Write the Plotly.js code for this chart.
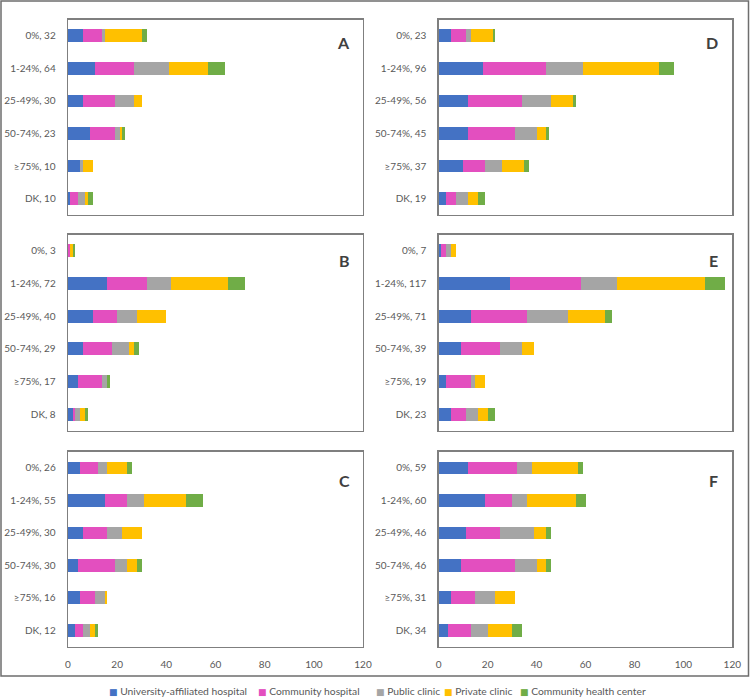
<!DOCTYPE html>
<html><head><meta charset="utf-8">
<script src="https://cdn.plot.ly/plotly-3.0.1.min.js"></script>
<style>html,body{margin:0;padding:0;background:#fff}#chart{width:750px;height:700px}</style>
</head><body><div id="chart"></div>
<script>
// Categories and series
const bins = ['0%', '1-24%', '25-49%', '50-74%', '≥75%', 'DK'];
const seriesNames = ['University-affiliated hospital', 'Community hospital', 'Public clinic', 'Private clinic', 'Community health center'];
const seriesColors = ['#4472C4', '#E34FBF', '#A5A5A5', '#FFC000', '#70AD47'];
const panelLetters = ['A', 'B', 'C', 'D', 'E', 'F'];
const xTicks = [0, 20, 40, 60, 80, 100, 120];

// Panel A
const A_total = [32, 64, 30, 23, 10, 10];
const A_univ = [6, 11, 6, 9, 5, 1];
const A_comm = [8, 16, 13, 10, 0, 3];
const A_pub  = [1, 14, 8, 2, 1, 3];
const A_priv = [15, 16, 3, 1, 4, 1];
const A_chc  = [2, 7, 0, 1, 0, 2];
// Panel B
const B_total = [3, 72, 40, 29, 17, 8];
const B_univ = [0, 16, 10, 6, 4, 2];
const B_comm = [1, 16, 10, 12, 10, 1];
const B_pub  = [0, 10, 8, 7, 2, 2];
const B_priv = [1, 23, 12, 2, 0, 2];
const B_chc  = [1, 7, 0, 2, 1, 1];
// Panel C
const C_total = [26, 55, 30, 30, 16, 12];
const C_univ = [5, 15, 6, 4, 5, 3];
const C_comm = [7, 9, 10, 15, 6, 3];
const C_pub  = [4, 7, 6, 5, 4, 3];
const C_priv = [8, 17, 8, 4, 1, 2];
const C_chc  = [2, 7, 0, 2, 0, 1];
// Panel D
const D_total = [23, 96, 56, 45, 37, 19];
const D_univ = [5, 18, 12, 12, 10, 3];
const D_comm = [6, 26, 22, 19, 9, 4];
const D_pub  = [2, 15, 12, 9, 7, 5];
const D_priv = [9, 31, 9, 4, 9, 4];
const D_chc  = [1, 6, 1, 1, 2, 3];
// Panel E
const E_total = [7, 117, 71, 39, 19, 23];
const E_univ = [1, 29, 13, 9, 3, 5];
const E_comm = [2, 29, 23, 16, 10, 6];
const E_pub  = [2, 15, 17, 9, 2, 5];
const E_priv = [2, 36, 15, 5, 4, 4];
const E_chc  = [0, 8, 3, 0, 0, 3];
// Panel F
const F_total = [59, 60, 46, 46, 31, 34];
const F_univ = [12, 19, 11, 9, 5, 4];
const F_comm = [20, 11, 14, 22, 10, 9];
const F_pub  = [6, 6, 14, 9, 8, 7];
const F_priv = [19, 20, 5, 4, 8, 10];
const F_chc  = [2, 4, 2, 2, 0, 4];

const panels = [
  {total: A_total, series: [A_univ, A_comm, A_pub, A_priv, A_chc]},
  {total: B_total, series: [B_univ, B_comm, B_pub, B_priv, B_chc]},
  {total: C_total, series: [C_univ, C_comm, C_pub, C_priv, C_chc]},
  {total: D_total, series: [D_univ, D_comm, D_pub, D_priv, D_chc]},
  {total: E_total, series: [E_univ, E_comm, E_pub, E_priv, E_chc]},
  {total: F_total, series: [F_univ, F_comm, F_pub, F_priv, F_chc]}
];

// Layout geometry (pixels) for the 3x2 grid
const W = 750, H = 700;
const colX = [[68, 363], [438.7, 732.3]];
const rowY = [[19.5, 215], [234.5, 430.5], [451.7, 646.5]];
const letterX = [352, 720];
const letterY = [43, 261, 480];
const legendX = [107, 256, 374, 442, 518];
const legendY = 691;

const FONT = 'Lato, "Liberation Sans", sans-serif';
const data = [];
const layout = {
  width: W, height: H,
  margin: {l: 0, r: 0, t: 0, b: 0},
  paper_bgcolor: '#ffffff', plot_bgcolor: '#ffffff',
  barmode: 'stack', bargap: 0.61,
  font: {family: FONT, color: '#595959', size: 10},
  showlegend: false,
  annotations: [],
  shapes: [
    {type: 'rect', xref: 'paper', yref: 'paper', x0: 1 / W, x1: 748.5 / W, y0: 1 - 676 / H, y1: 1 - 1 / H,
     line: {color: '#6e6e6e', width: 1.5}, fillcolor: 'rgba(0,0,0,0)'}
  ]
};

panels.forEach((p, i) => {
  const col = i < 3 ? 0 : 1;
  const row = i % 3;
  const n = i + 1;
  const xa = n === 1 ? 'x' : 'x' + n;
  const ya = n === 1 ? 'y' : 'y' + n;
  const labels = bins.map((b, k) => b + ', ' + p.total[k]);
  p.series.forEach((vals, s) => {
    data.push({
      type: 'bar', orientation: 'h',
      x: vals, y: labels,
      name: seriesNames[s],
      marker: {color: seriesColors[s], line: {width: 0}},
      xaxis: xa, yaxis: ya,
      hoverinfo: 'x+name'
    });
  });
  const showX = row === 2;
  layout['xaxis' + (n === 1 ? '' : n)] = {
    domain: [colX[col][0] / W, colX[col][1] / W],
    anchor: ya, range: [0, 120],
    tickvals: xTicks, showticklabels: showX, ticks: '',
    ticklabelstandoff: 8,
    showgrid: false, zeroline: false,
    showline: true, mirror: true, linecolor: '#7f7f7f', linewidth: 1.3,
    tickfont: {size: 10, color: '#595959'}, fixedrange: true
  };
  layout['yaxis' + (n === 1 ? '' : n)] = {
    domain: [1 - rowY[row][1] / H, 1 - rowY[row][0] / H],
    anchor: xa, type: 'category',
    categoryorder: 'array', categoryarray: labels,
    range: [5.5, -0.5],
    ticks: '', ticklabelstandoff: 9,
    showgrid: false, zeroline: false,
    showline: true, mirror: true, linecolor: '#7f7f7f', linewidth: 1.3,
    tickfont: {size: 10, color: '#595959'}, fixedrange: true
  };
  layout.annotations.push({
    text: panelLetters[i], xref: 'paper', yref: 'paper',
    x: letterX[col] / W, y: 1 - letterY[row] / H,
    xanchor: 'right', yanchor: 'middle', showarrow: false,
    font: {size: 16, color: '#404040', family: FONT, weight: 'bold'}
  });
});

// Legend (series key) along the bottom
seriesNames.forEach((name, s) => {
  layout.annotations.push({
    text: '<span style="color:' + seriesColors[s] + ';font-family:DejaVu Sans;font-size:9px">■</span> ' + name,
    xref: 'paper', yref: 'paper',
    x: legendX[s] / W, y: 1 - legendY / H,
    xanchor: 'left', yanchor: 'middle', showarrow: false,
    font: {size: 10.3, color: '#595959', family: FONT}
  });
});

Plotly.newPlot('chart', data, layout, {displayModeBar: false, staticPlot: true});
</script>
</body></html>
